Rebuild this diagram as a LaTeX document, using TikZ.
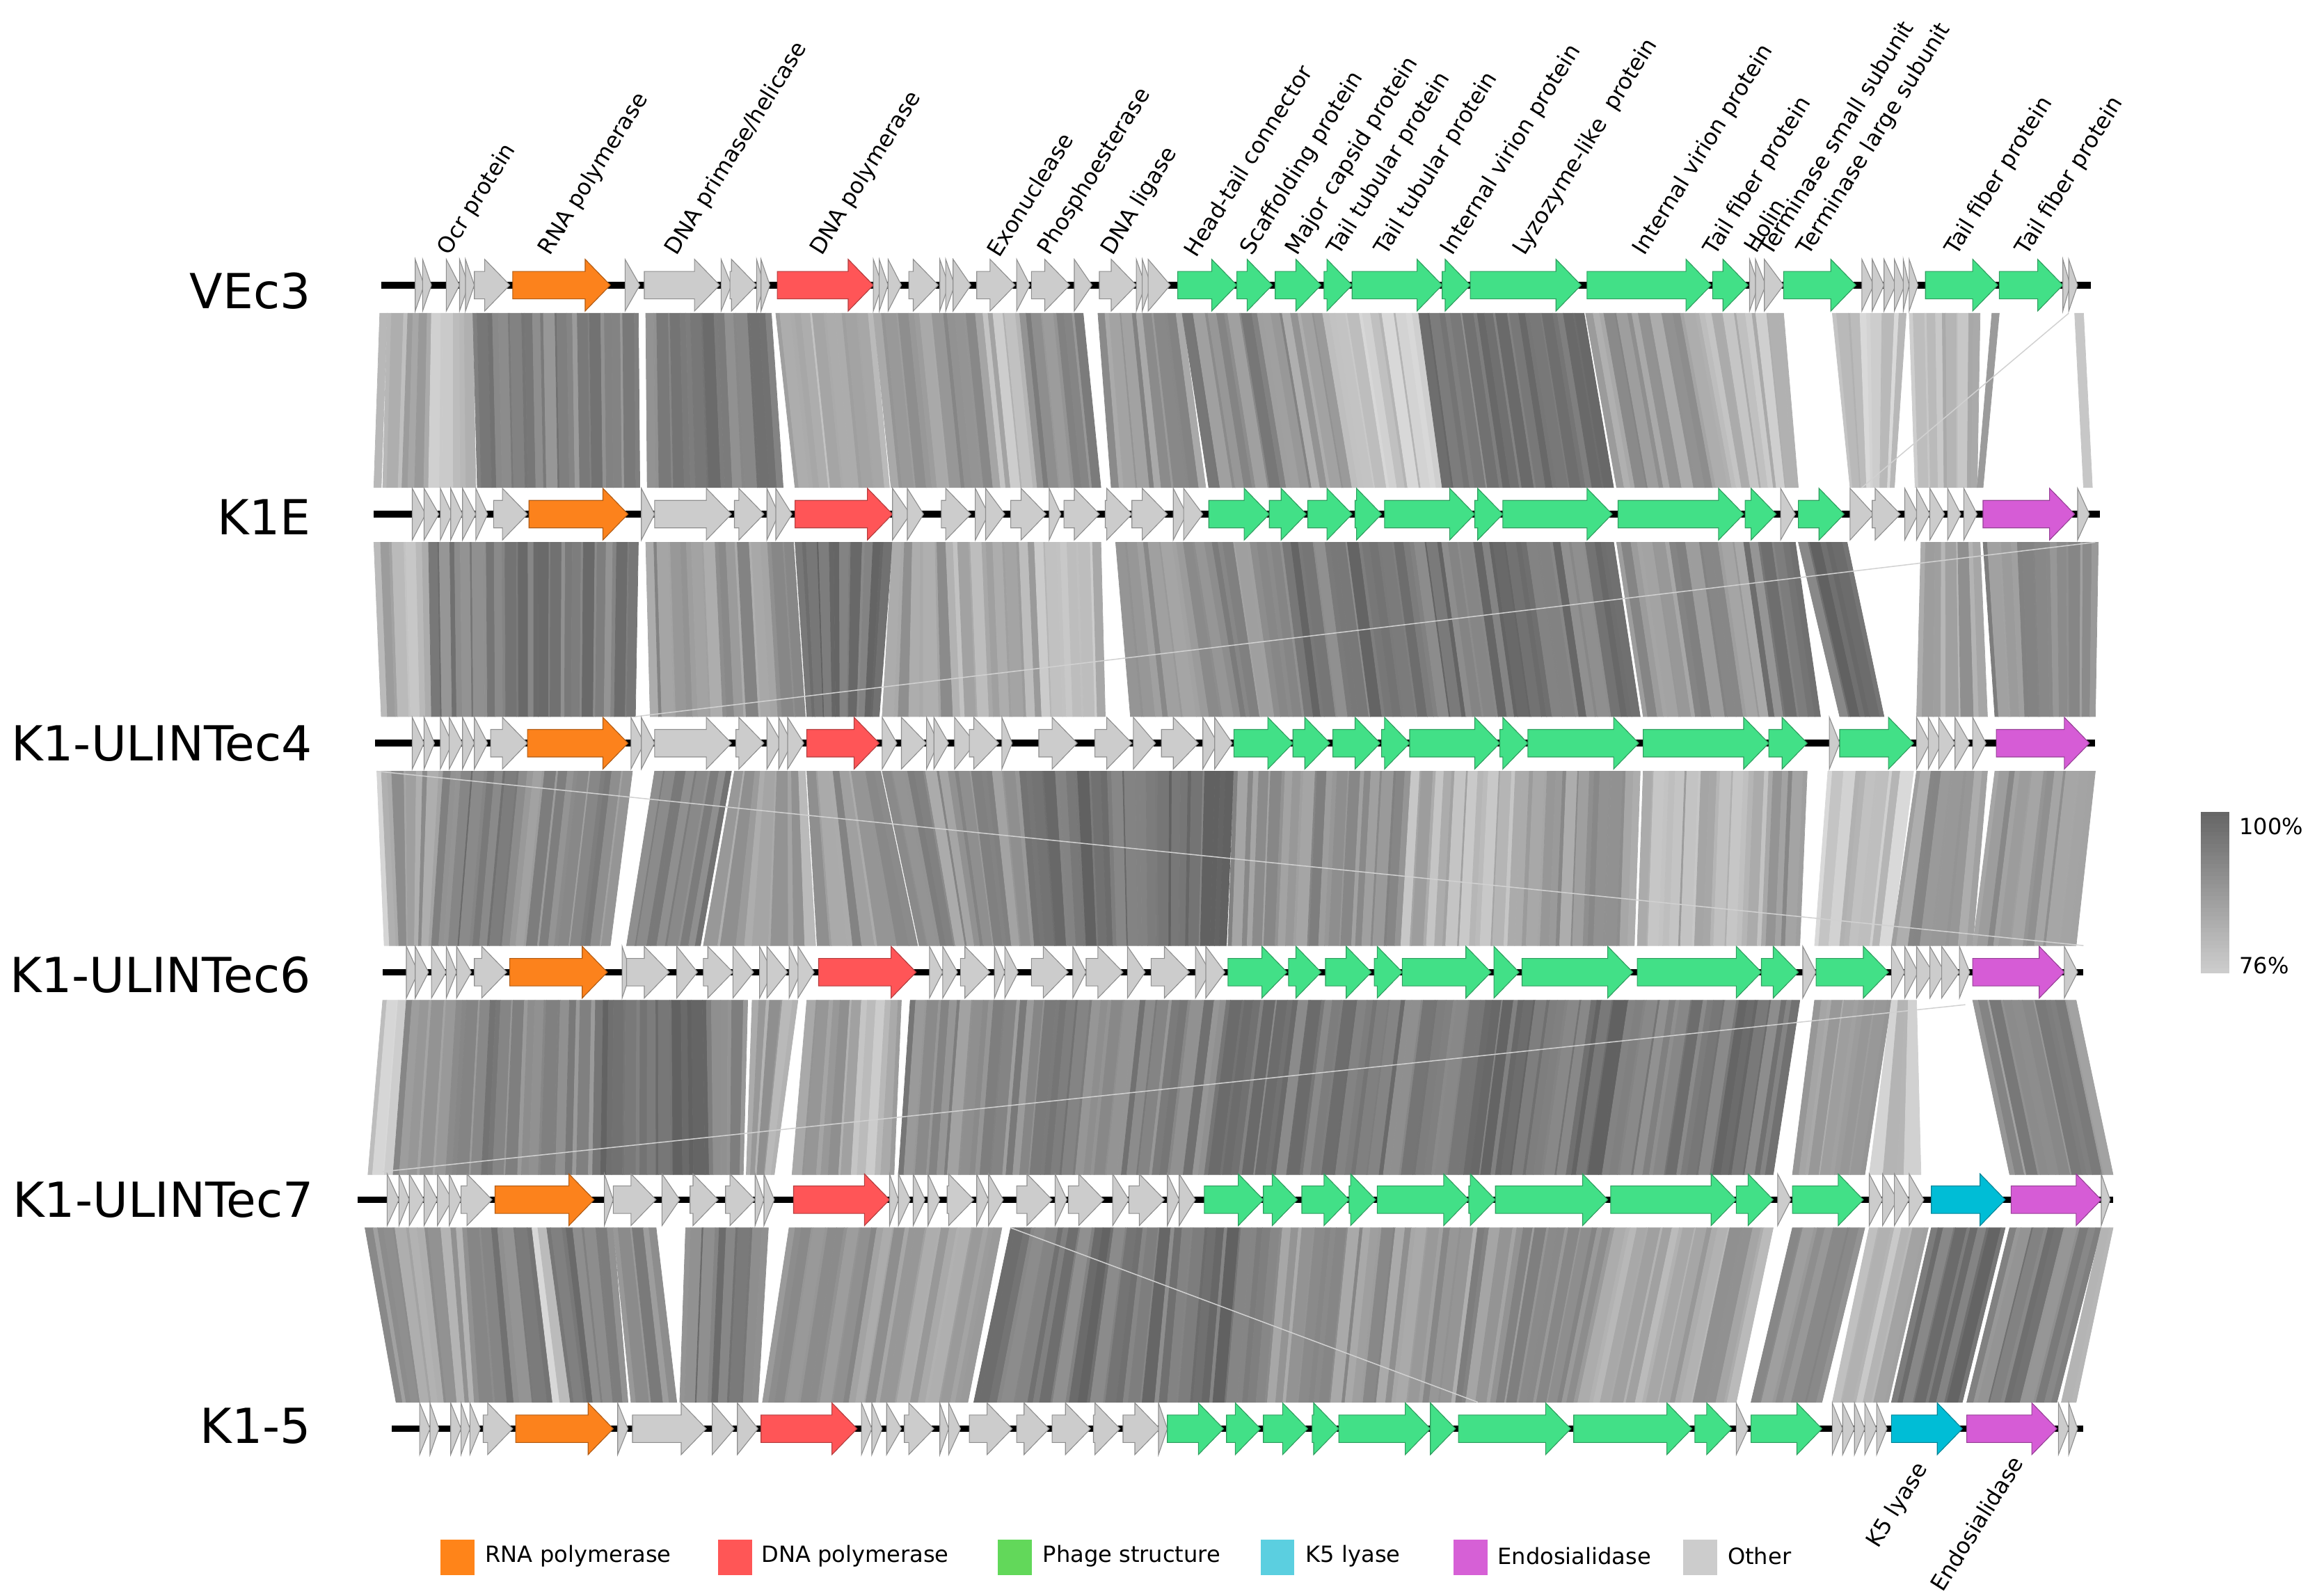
\documentclass[tikz,border=0pt]{standalone}
\usepackage{fontspec}
\setmainfont{DejaVu Sans}
\usepackage{graphicx}
\definecolor{gO}{HTML}{FC821C}
\definecolor{gR}{HTML}{FF5557}
\definecolor{gG}{HTML}{42E087}
\definecolor{gC}{HTML}{00BDD6}
\definecolor{gM}{HTML}{D65CD6}
\definecolor{gX}{HTML}{CCCCCC}
\definecolor{lO}{HTML}{FF8419}
\definecolor{lR}{HTML}{FF5656}
\definecolor{lG}{HTML}{62D85A}
\definecolor{lC}{HTML}{5BCFE0}
\definecolor{lM}{HTML}{D660D6}
\definecolor{lX}{HTML}{CCCCCC}
\newcommand\gn[4]{%
  \pgfmathsetmacro\hl{min(17,#3-#2)}%
  \pgfmathsetmacro\xb{#3-\hl}%
  \filldraw[draw=#4!70!black, line width=0.15pt, fill=#4] (#2,#1-9.3) -- (\xb,#1-9.3) -- (\xb,#1-17.5) -- (#3,#1) -- (\xb,#1+17.5) -- (\xb,#1+9.3) -- (#2,#1+9.3) -- cycle;}
\newcommand\trk[4]{%
  \draw[line width=1.3pt] (#2,#1) -- (#3,#1);
  \foreach \a/\b/\c in {#4} {\gn{#1}{\a}{\b}{g\c}}}
\newcommand\sg[7]{%
  \pgfmathtruncatemacro\nst{max(1,round(abs(#4-#3)/4.5))}%
  \pgfmathsetmacro\ph{mod(#3*7,360)}%
  \foreach \k in {1,...,\nst}{%
    \pgfmathsetmacro\fa{(\k-1+(\k>1)*0.4*sin(mod((\k-1)*211,360)+\ph))/\nst}%
    \pgfmathsetmacro\fb{(\k+(\k<\nst)*0.4*sin(mod(\k*211,360)+\ph))/\nst}%
    \pgfmathsetmacro\gg{max(15,min(62,#7+9*rand))}%
    \filldraw[black!\gg, line width=0.1pt] ({#3+\fa*(#4-#3)},#1) -- ({#3+\fb*(#4-#3)},#1) -- ({#5+\fb*(#6-#5)},#2) -- ({#5+\fa*(#6-#5)},#2) -- cycle;
  }}
\tikzset{
  glab/.style={font=\fontsize{4.3}{5}\selectfont, rotate=58, anchor=south west, inner sep=0pt},
  tlab/.style={font=\fontsize{9.3}{11}\selectfont, anchor=east, inner sep=0pt},
  leglab/.style={font=\fontsize{4.3}{5}\selectfont, anchor=west, inner sep=0pt},
  faint/.style={draw=black!18, line width=0.2pt}
}
\begin{document}
\begin{tikzpicture}[x=0.01cm, y=-0.01cm]
\useasboundingbox (0,0) rectangle (1568,1080);
\pgfmathsetseed{11}
% ---------- band VEc3 -> K1E
\sg{212}{330}{257}{262}{253}{258}{22}
\sg{212}{330}{262}{276}{259}{272}{28}
\sg{212}{330}{276}{292}{272}{290}{38}
\sg{212}{330}{292}{320}{290}{322}{24}
\sg{212}{330}{320}{432}{323}{433}{47}
\sg{212}{330}{437}{522}{438}{530}{50}
\sg{212}{330}{525}{591}{538}{602}{30}
\sg{212}{330}{591}{660}{603}{672}{40}
\sg{212}{330}{660}{690}{672}{702}{28}
\sg{212}{330}{690}{733}{702}{745}{46}
\sg{212}{330}{743}{800}{752}{816}{42}
\sg{212}{330}{800}{860}{818}{880}{46}
\sg{212}{330}{860}{895}{880}{915}{40}
\sg{212}{330}{895}{960}{915}{976}{22}
\sg{212}{330}{960}{1072}{976}{1092}{52}
\sg{212}{330}{1073}{1150}{1094}{1172}{40}
\sg{212}{330}{1150}{1207}{1172}{1217}{25}
\sg{212}{330}{1240}{1290}{1252}{1282}{22}
\sg{212}{330}{1292}{1340}{1296}{1338}{28}
\sg{212}{330}{1348}{1353}{1338}{1342}{35}
\sg{212}{330}{1404}{1410}{1410}{1416}{25}
% ---------- band K1E -> ULINTec4
\sg{367}{485}{253}{290}{258}{292}{30}
\sg{367}{485}{290}{432}{292}{430}{50}
\sg{367}{485}{437}{537}{440}{545}{40}
\sg{367}{485}{538}{604}{546}{595}{55}
\sg{367}{485}{604}{640}{597}{645}{40}
\sg{367}{485}{640}{700}{645}{705}{32}
\sg{367}{485}{700}{745}{705}{748}{28}
\sg{367}{485}{755}{815}{765}{835}{40}
\sg{367}{485}{815}{860}{835}{875}{44}
\sg{367}{485}{860}{1092}{875}{1110}{52}
\sg{367}{485}{1094}{1180}{1112}{1197}{42}
\sg{367}{485}{1180}{1215}{1197}{1232}{50}
\sg{367}{485}{1217}{1250}{1245}{1275}{55}
\sg{367}{485}{1300}{1340}{1297}{1345}{35}
\sg{367}{485}{1342}{1420}{1350}{1418}{45}
% ---------- band ULINTec4 -> ULINTec6
\sg{522}{640}{255}{262}{260}{268}{24}
\sg{522}{640}{262}{300}{268}{292}{40}
\sg{522}{640}{300}{357}{292}{345}{50}
\sg{522}{640}{357}{428}{345}{413}{45}
\sg{522}{640}{443}{495}{424}{474}{48}
\sg{522}{640}{497}{545}{476}{552}{35}
\sg{522}{640}{546}{596}{553}{621}{40}
\sg{522}{640}{597}{690}{622}{700}{42}
\sg{522}{640}{690}{835}{700}{830}{55}
\sg{522}{640}{835}{955}{831}{948}{42}
\sg{522}{640}{955}{1035}{948}{1030}{30}
\sg{522}{640}{1035}{1110}{1030}{1106}{38}
\sg{522}{640}{1112}{1197}{1108}{1192}{30}
\sg{522}{640}{1197}{1223}{1192}{1218}{40}
\sg{522}{640}{1237}{1295}{1228}{1280}{22}
\sg{522}{640}{1297}{1345}{1280}{1335}{40}
\sg{522}{640}{1350}{1418}{1335}{1405}{40}
% ---------- band ULINTec6 -> ULINTec7
\sg{677}{795}{259}{275}{249}{266}{24}
\sg{677}{795}{275}{313}{266}{306}{42}
\sg{677}{795}{313}{403}{306}{401}{48}
\sg{677}{795}{403}{478}{401}{480}{58}
\sg{677}{795}{478}{506}{480}{503}{42}
\sg{677}{795}{509}{540}{505}{524}{36}
\sg{677}{795}{546}{583}{536}{576}{38}
\sg{677}{795}{583}{603}{576}{596}{20}
\sg{677}{795}{603}{610}{596}{605}{40}
\sg{677}{795}{616}{700}{608}{690}{45}
\sg{677}{795}{700}{830}{690}{815}{48}
\sg{677}{795}{830}{1010}{815}{995}{52}
\sg{677}{795}{1010}{1107}{995}{1089}{55}
\sg{677}{795}{1107}{1218}{1089}{1200}{52}
\sg{677}{795}{1228}{1280}{1213}{1262}{40}
\sg{677}{795}{1280}{1297}{1265}{1300}{25}
\sg{677}{795}{1335}{1405}{1360}{1430}{45}
% ---------- band ULINTec7 -> K1-5
\sg{831}{949}{247}{313}{268}{321}{38}
\sg{831}{949}{313}{360}{321}{374}{48}
\sg{831}{949}{360}{370}{374}{386}{20}
\sg{831}{949}{370}{415}{386}{425}{50}
\sg{831}{949}{415}{444}{427}{458}{45}
\sg{831}{949}{464}{520}{460}{513}{50}
\sg{831}{949}{534}{598}{516}{579}{42}
\sg{831}{949}{598}{678}{579}{655}{36}
\sg{831}{949}{684}{800}{659}{790}{52}
\sg{831}{949}{800}{860}{790}{850}{55}
\sg{831}{949}{860}{1000}{850}{985}{40}
\sg{831}{949}{1000}{1090}{985}{1065}{42}
\sg{831}{949}{1090}{1200}{1065}{1175}{35}
\sg{831}{949}{1213}{1262}{1185}{1233}{42}
\sg{831}{949}{1265}{1305}{1240}{1278}{28}
\sg{831}{949}{1307}{1357}{1280}{1328}{52}
\sg{831}{949}{1360}{1422}{1331}{1392}{48}
\sg{831}{949}{1422}{1430}{1395}{1405}{25}
% faint crossing lines
\draw[faint] (1418,367) -- (430,485);
\draw[faint] (255,522) -- (1410,640);
\draw[faint] (1400,212) -- (1260,330);
\draw[faint] (259,793) -- (1330,680);
\draw[faint] (684,831) -- (1000,949);
% ---------- tracks
\trk{193}{258}{1415}{281/287/X,286/292/X,302/311/X,311/317/X,315/321/X,321/345/X,347/413/O,423/433/X,436/487/X,488/495/X,494/512/X,512/517/X,515/521/X,526/591/R,591/597/X,595/601/X,601/610/X,615/635/X,636/642/X,640/646/X,645/657/X,661/687/X,688/697/X,698/724/X,727/739/X,744/769/X,769/775/X,773/779/X,777/792/X,797/837/G,837/861/G,863/894/G,896/915/G,915/976/G,976/995/G,995/1070/G,1074/1158/G,1159/1183/G,1184/1190/X,1188/1195/X,1194/1207/X,1207/1256/G,1260/1268/X,1267/1275/X,1275/1283/X,1282/1289/X,1288/1292/X,1292/1298/X,1303/1352/G,1353/1396/G,1396/1401/X,1400/1406/X}
\trk{348}{253}{1421}{279/288/X,287/297/X,298/306/X,305/313/X,313/322/X,322/330/X,334/357/X,358/425/O,434/443/X,443/495/X,497/517/X,519/527/X,525/536/X,538/604/R,604/616/X,614/625/X,637/657/X,660/669/X,667/680/X,684/708/X,710/718/X,720/744/X,748/766/X,766/790/X,794/803/X,801/814/X,818/859/G,859/884/G,885/915/G,917/935/G,937/998/G,998/1017/G,1017/1091/G,1095/1180/G,1181/1202/G,1205/1215/X,1217/1248/G,1252/1268/X,1267/1286/X,1289/1298/X,1297/1306/X,1306/1316/X,1318/1327/X,1329/1338/X,1342/1404/M,1406/1414/X}
\trk{503}{254}{1418}{279/287/X,287/294/X,298/306/X,304/313/X,313/321/X,321/330/X,332/357/X,357/425/O,427/436/X,434/443/X,443/495/X,498/517/X,519/529/X,527/536/X,533/544/X,546/595/R,597/607/X,610/627/X,627/635/X,632/642/X,646/660/X,656/676/X,678/685/X,703/729/X,741/766/X,767/782/X,786/811/X,814/824/X,822/834/X,835/875/G,875/900/G,902/934/G,935/954/G,954/1015/G,1015/1034/G,1034/1109/G,1112/1197/G,1197/1223/G,1238/1245/X,1245/1295/G,1297/1306/X,1305/1314/X,1312/1323/X,1323/1333/X,1335/1344/X,1351/1414/M}
\trk{658}{259}{1410}{275/283/X,281/290/X,292/302/X,302/309/X,309/319/X,321/343/X,345/411/O,421/427/X,424/453/X,458/472/X,476/496/X,496/510/X,514/523/X,519/533/X,534/542/X,540/551/X,554/620/R,629/638/X,638/648/X,650/670/X,673/680/X,680/689/X,698/723/X,726/735/X,735/760/X,763/775/X,779/805/X,809/819/X,816/829/X,831/871/G,872/894/G,897/928/G,930/949/G,949/1009/G,1011/1028/G,1030/1105/G,1108/1192/G,1192/1217/G,1220/1229/X,1229/1278/G,1280/1289/X,1289/1298/X,1297/1308/X,1306/1316/X,1314/1326/X,1326/1333/X,1335/1397/M,1397/1406/X}
\trk{812}{242}{1430}{262/270/X,270/277/X,277/287/X,287/296/X,296/306/X,304/312/X,312/333/X,335/402/O,409/415/X,415/444/X,448/460/X,467/486/X,491/511/X,511/517/X,517/524/X,537/602/R,602/608/X,608/616/X,618/626/X,628/636/X,641/659/X,661/669/X,669/679/X,688/712/X,714/722/X,723/747/X,753/764/X,764/788/X,790/798/X,798/809/X,815/855/G,855/878/G,881/913/G,913/931/G,932/994/G,994/1012/G,1012/1088/G,1090/1175/G,1175/1200/G,1203/1212/X,1213/1261/G,1265/1274/X,1274/1284/X,1282/1292/X,1292/1302/X,1307/1357/C,1361/1422/M,1422/1428/X}
\trk{967}{265}{1410}{284/291/X,291/297/X,305/312/X,312/318/X,318/325/X,327/347/X,349/415/O,418/425/X,428/478/X,482/497/X,499/513/X,515/580/R,583/590/X,590/597/X,600/610/X,612/632/X,636/642/X,642/650/X,656/685/X,688/710/X,712/738/X,740/758/X,760/785/X,784/790/X,790/828/G,830/853/G,855/885/G,888/906/G,906/968/G,968/985/G,987/1063/G,1065/1145/G,1147/1172/G,1175/1183/X,1185/1233/G,1240/1247/X,1247/1255/X,1255/1262/X,1262/1270/X,1270/1277/X,1280/1328/C,1331/1392/M,1393/1400/X,1400/1406/X}
% ---------- track labels
\node[tlab] (n1) at (211,197) {VEc3};
\node[tlab] (n2) at (211,350) {K1E};
\node[tlab] (n3) at (212,503) {K1-ULINTec4};
\node[tlab] (n4) at (211,660) {K1-ULINTec6};
\node[tlab] (n5) at (213,812) {K1-ULINTec7};
\node[tlab] (n6) at (211,965) {K1-5};
% ---------- gene labels
\node[glab] (t1) at (307,176) {Ocr protein};
\node[glab] (t2) at (375,176) {RNA polymerase};
\node[glab] (t3) at (461,176) {DNA primase/helicase};
\node[glab] (t4) at (559,176) {DNA polymerase};
\node[glab] (t5) at (677,176) {Exonuclease};
\node[glab] (t6) at (713,176) {Phosphoesterase};
\node[glab] (t7) at (756,176) {DNA ligase};
\node[glab] (t8) at (810,176) {Head-tail connector};
\node[glab] (t9) at (850,176) {Scaffolding protein};
\node[glab] (t10) at (881,176) {Major capsid protein};
\node[glab] (t11) at (909,176) {Tail tubular protein};
\node[glab] (t12) at (941,176) {Tail tubular protein};
\node[glab] (t13) at (986,176) {Internal virion protein};
\node[glab] (t14) at (1035,176) {Lyzozyme-like\ \ protein};
\node[glab] (t15) at (1116,176) {Internal virion protein};
\node[glab] (t16) at (1164,176) {Tail fiber protein};
\node[glab] (t17) at (1189,173) {Holin};
\node[glab] (t18) at (1199,175) {Terminase small subunit};
\node[glab] (t19) at (1227,176) {Terminase large subunit};
\node[glab] (t20) at (1327,176) {Tail fiber protein};
\node[glab] (t21) at (1375,176) {Tail fiber protein};
\node[glab, anchor=north east] (b1) at (1295,987) {K5 lyase};
\node[glab, anchor=north east] (b2) at (1360,983) {Endosialidase};
% ---------- colour bar
\foreach \i in {0,...,39} {
  \pgfmathsetmacro\cg{60-40*\i/39}
  \fill[black!\cg] (1489.4,{549.4+\i*2.722}) rectangle (1508.7,{549.4+(\i+1)*2.722+0.3});
}
\node[leglab] (c1) at (1514.8,559.5) {100\%};
\node[leglab] (c2) at (1514.8,653.6) {76\%};
% ---------- legend
\foreach \xs/\xt/\cc/\tt [count=\j] in {298/327.8/lO/RNA polymerase, 486/514.6/lR/DNA polymerase, 675.4/705/lG/Phage structure, 853/883/lC/K5 lyase, 983.7/1012.8/lM/Endosialidase, 1139/1168.5/lX/Other} {
  \fill[\cc] (\xs,1042) rectangle ++(23,24);
  \node[leglab] (lg\j) at (\xt,1053) {\tt};
}
\end{tikzpicture}
\end{document}
